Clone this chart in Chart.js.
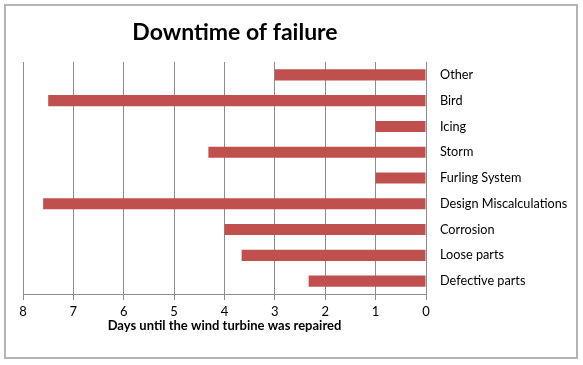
<!DOCTYPE html>
<html>
<head>
<meta charset="utf-8">
<script src="https://cdn.jsdelivr.net/npm/chart.js@4"></script>
<style>
  html, body { margin: 0; padding: 0; background: #fff; }
  #wrap { position: relative; width: 583px; height: 365px; }
  #frame {
    position: absolute; left: 4px; top: 4px; width: 570px; height: 351px;
    border: 2px solid #b4b4b4;
  }
  #chart { position: absolute; left: 0; top: 0; }
</style>
</head>
<body>
<div id="wrap">
  <div id="frame"></div>
  <canvas id="chart" width="583" height="365"></canvas>
</div>
<script>
// failure causes, top to bottom
const causes = [
  "Other",
  "Bird",
  "Icing",
  "Storm",
  "Furling System",
  "Design Miscalculations",
  "Corrosion",
  "Loose parts",
  "Defective parts",
];
// days until repaired
const downtimeDays = [3, 7.5, 1, 4.32, 1, 7.6, 4, 3.66, 2.33];
const dayTicks = [0, 1, 2, 3, 4, 5, 6, 7, 8];

const titleText = "Downtime of failure";
const axisTitle = "Days until the wind turbine was repaired";

// chart title drawn by hand so it sits where the original one does
const titlePlugin = {
  id: "ownTitle",
  afterDraw(chart) {
    const ctx = chart.ctx;
    ctx.save();
    ctx.font = "bold 23px Lato";
    ctx.fillStyle = "#000";
    ctx.textAlign = "center";
    ctx.textBaseline = "middle";
    ctx.fillText(titleText, 235, 33);
    ctx.restore();
  },
};

new Chart(document.getElementById("chart").getContext("2d"), {
  type: "bar",
  data: {
    labels: causes,
    datasets: [
      {
        data: downtimeDays,
        backgroundColor: "#C0504D",
        borderWidth: 0,
        barPercentage: 1,
        categoryPercentage: 0.43,
      },
    ],
  },
  options: {
    indexAxis: "y",
    responsive: false,
    animation: false,
    layout: {
      padding: { top: 62, left: 23, right: 0, bottom: 31 },
    },
    plugins: {
      legend: { display: false },
      tooltip: { enabled: false },
    },
    scales: {
      x: {
        reverse: true,
        min: 0,
        max: 8,
        afterBuildTicks: (scale) => {
          scale.ticks = dayTicks.map((v) => ({ value: v }));
        },
        afterFit: (scale) => {
          scale.height = 40;
        },
        grid: {
          color: "#8c8c8c",
          lineWidth: 1,
          tickLength: 6,
        },
        border: { color: "#8c8c8c" },
        ticks: {
          color: "#000",
          font: { family: "Lato", size: 13 },
          padding: 4,
          maxRotation: 0,
        },
        title: {
          display: true,
          text: axisTitle,
          color: "#000",
          font: { family: "Lato", size: 13, weight: "bold" },
          padding: { top: 0, bottom: 0 },
        },
      },
      y: {
        position: "right",
        grid: { display: false, drawTicks: false },
        border: { display: false },
        ticks: {
          color: "#000",
          font: { family: "Lato", size: 12.7 },
          padding: 14,
        },
        afterFit: (scale) => {
          scale.width = 157;
        },
      },
    },
  },
  plugins: [titlePlugin],
});
</script>
</body>
</html>
